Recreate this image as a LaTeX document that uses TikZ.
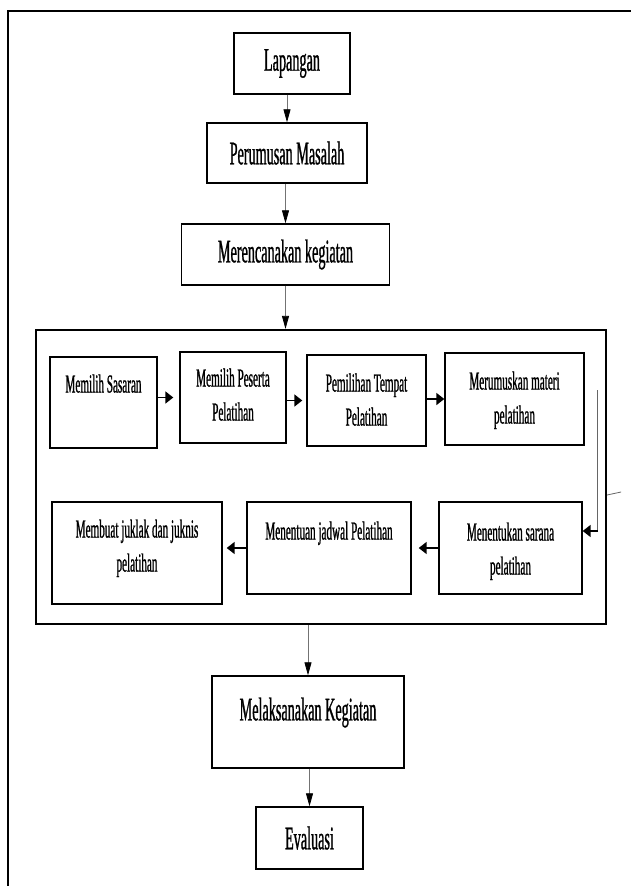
\documentclass[tikz,border=0pt]{standalone}
\usepackage{fontspec}
\setmainfont{Liberation Serif}[FakeStretch=0.43,FakeBold=0.8]
\usetikzlibrary{arrows.meta,positioning}

\begin{document}
\begin{tikzpicture}[
  x=1pt, y=-1pt,
  block/.style={draw, line width=1.4pt, inner sep=0pt, align=center, font=\fontsize{33}{40}\selectfont},
  panel/.style={draw, line width=2.2pt, inner sep=0pt},
  item/.style={draw, line width=1.4pt, inner sep=0pt},
  itemtext/.style={anchor=north, inner sep=0pt, align=center, font=\fontsize{26}{34}\selectfont},
  flow/.style={draw=black!55, line width=0.8pt, -{Triangle[length=13pt,width=7pt,color=black]}},
  push/.style={line width=1.8pt, -{Triangle[length=8pt,width=12pt]}},
  wire/.style={draw=black!60, line width=0.8pt}
]
\useasboundingbox (0,0) rectangle (630,886);
\fill[white] (0,0) rectangle (630,886);

% outer frame (cut off at right and bottom)
\draw[line width=2.4pt] (8,900) -- (8,11) -- (650,11);

% main flow
\node[block, minimum width=116, minimum height=61] (lapangan) at (292,63.5) {Lapangan};
\node[block, minimum width=160, minimum height=60] (perumusan) at (287,153) {Perumusan Masalah};
\node[block, minimum width=208, minimum height=61] (merencanakan) at (285.5,254.5) {Merencanakan kegiatan};

\draw[flow] (perumusan.north |- lapangan.south) -- (perumusan.north);
\draw[flow] (merencanakan.north |- perumusan.south) -- (merencanakan.north);

% planning steps
\node[panel, minimum width=570, minimum height=294] (kegiatan) at (321,477) {};
\draw[flow] (merencanakan.south) -- (merencanakan.south |- kegiatan.north);

\node[item, minimum width=107, minimum height=91] (sasaran) at (103.5,402.5) {};
\node[itemtext] (sasaran-t) at ([yshift=-18pt]sasaran.north) {Memilih Sasaran};
\node[item, minimum width=106, minimum height=91] (peserta) at (233,397.5) {};
\node[itemtext] (peserta-t) at ([yshift=-17pt]peserta.north) {Memilih Peserta\\Pelatihan};
\node[item, minimum width=119, minimum height=91] (tempat) at (366.5,400.5) {};
\node[itemtext] (tempat-t) at ([yshift=-19pt]tempat.north) {Pemilihan Tempat\\Pelatihan};
\node[item, minimum width=139, minimum height=92] (merumuskan) at (514.5,399) {};
\node[itemtext] (merumuskan-t) at ([yshift=-19pt]merumuskan.north) {Merumuskan materi\\pelatihan};

\node[item, minimum width=170, minimum height=102] (juklak) at (137,553) {};
\node[itemtext] (juklak-t) at ([yshift=-18pt]juklak.north) {Membuat juklak dan juknis\\pelatihan};
\node[item, minimum width=164, minimum height=92] (jadwal) at (329,548) {};
\node[itemtext] (jadwal-t) at ([yshift=-20pt]jadwal.north) {Menentuan jadwal Pelatihan};
\node[item, minimum width=143, minimum height=92] (sarana) at (510.5,548) {};
\node[itemtext] (sarana-t) at ([yshift=-21pt]sarana.north) {Menentukan sarana\\pelatihan};

\draw[push, shorten >=6pt] (sasaran.east |- peserta.west) -- (peserta.west);
\draw[push, shorten >=4pt] (peserta.east |- tempat.west) -- (tempat.west);
\draw[push] (tempat.east |- merumuskan.west) -- (merumuskan.west);

\coordinate (drop) at (597,390);
\coordinate (turn) at (597,531);
\draw[wire] (drop) -- (turn);
\draw[push] ([xshift=1pt]turn) -- (sarana.east |- turn);

\draw[push, shorten >=7pt] (sarana.west) -- (jadwal.east |- sarana.west);
\draw[push, shorten >=4pt] (jadwal.west) -- (juklak.east |- jadwal.west);

\coordinate (stub) at ([yshift=-18pt]kegiatan.east);
\draw[wire] (stub) -- ++(14,-3);

% carrying out
\node[block, minimum width=192, minimum height=92] (melaksanakan) at (308,722) {};
\node[itemtext, font=\fontsize{33}{40}\selectfont] (melaksanakan-t) at ([yshift=-22pt]melaksanakan.north) {Melaksanakan Kegiatan};
\node[block, minimum width=107, minimum height=62] (evaluasi) at (309.5,838) {Evaluasi};

\draw[flow] (melaksanakan.north |- kegiatan.south) -- (melaksanakan.north);
\draw[flow] (evaluasi.north |- melaksanakan.south) -- (evaluasi.north);

\end{tikzpicture}
\end{document}
